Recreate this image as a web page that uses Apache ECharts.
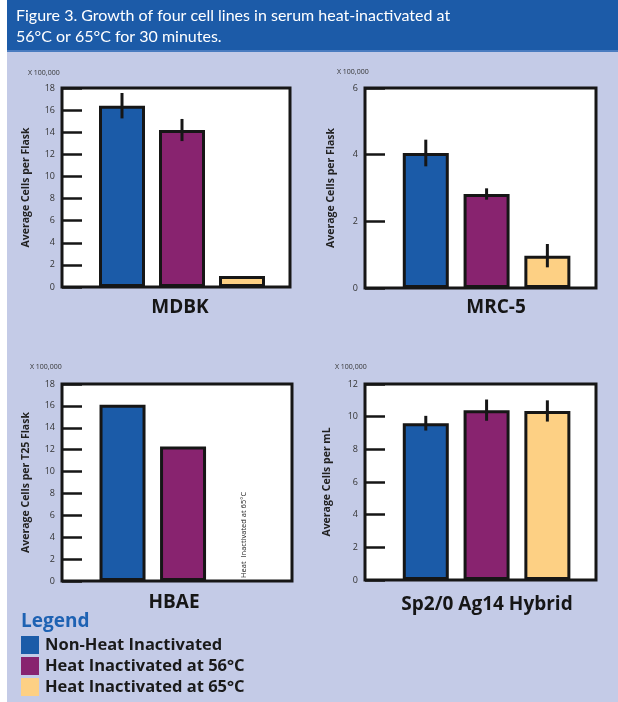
<!DOCTYPE html>
<html>
<head>
<meta charset="utf-8">
<script src="https://cdn.jsdelivr.net/npm/echarts@6/dist/echarts.min.js"></script>
<style>
  html, body { margin: 0; padding: 0; background: #ffffff; }
  #chart { width: 618px; height: 702px; }
</style>
</head>
<body>
<div id="chart"></div>
<script>
// Cell counts (x 100,000) for four cell lines under three serum treatments
const panels = ['MDBK', 'MRC-5', 'HBAE', 'Sp2/0 Ag14 Hybrid'];
const yNames = ['Average Cells per Flask', 'Average Cells per Flask', 'Average Cells per T25 Flask', 'Average Cells per mL'];
const yMax = [18, 6, 18, 12];
const treatments = ['Non-Heat Inactivated', 'Heat Inactivated at 56\u00B0C', 'Heat Inactivated at 65\u00B0C'];
const nonHeat = [16.4, 4.05, 16.1, 9.6];
const heat56 = [14.2, 2.82, 12.3, 10.4];
const heat65 = [1.0, 0.97, null, 10.35];
const errNonHeat = [1.15, 0.4, null, 0.45];
const errHeat56 = [1.0, 0.17, null, 0.65];
const errHeat65 = [null, 0.35, null, 0.65];
const scaleNote = 'X 100,000';
const missingNote = 'Heat  Inactivated at 65\u00B0C';
const figureTitle = 'Figure 3. Growth of four cell lines in serum heat-inactivated at\n56\u00B0C or 65\u00B0C for 30 minutes.';

const colors = ['#1B5BA8', '#88236F', '#FDD084'];
const ink = '#161616';
const font = 'Open Sans';

// panel layout: plot boxes, title anchors, axis-name gaps
const boxes = [
  { left: 62, top: 88, width: 228, height: 199 },
  { left: 365, top: 88, width: 231, height: 200 },
  { left: 62, top: 384, width: 230, height: 197 },
  { left: 365, top: 384, width: 231, height: 196 }
];
const titlePos = [[180, 298], [496, 298], [174, 593], [487, 595]];
const notePos = [[28, 69], [337, 68], [30, 363], [335, 363]];
const nameGaps = [30, 28, 30, 32];

const valuesByTreatment = [nonHeat, heat56, heat65];
const errorsByTreatment = [errNonHeat, errHeat56, errHeat65];

const grid = [], xAxis = [], yAxis = [], series = [];
const title = [{
  text: figureTitle,
  left: 16, top: 5, padding: 0,
  textStyle: { color: '#ffffff', fontSize: 16, fontWeight: 'normal', fontFamily: 'Lato', lineHeight: 21 }
}, {
  text: 'Legend',
  left: 21, top: 612, padding: 0,
  textStyle: { color: '#1E62B3', fontSize: 19, fontWeight: 'bold', fontFamily: font }
}];

panels.forEach((name, i) => {
  grid.push(Object.assign({
    show: true, backgroundColor: '#ffffff', borderColor: ink, borderWidth: 3
  }, boxes[i]));
  xAxis.push({
    type: 'value', gridIndex: i, min: -1, max: 2.8, show: false, splitLine: { show: false }
  });
  yAxis.push({
    type: 'value', gridIndex: i, min: 0, max: yMax[i], interval: 2,
    name: yNames[i], nameLocation: 'middle', nameGap: nameGaps[i],
    nameTextStyle: { fontSize: 10.5, fontWeight: 'bold', color: '#222', fontFamily: font },
    axisLine: { show: false, onZero: false },
    axisTick: { show: true, inside: true, length: 20, lineStyle: { color: ink, width: 2.5 } },
    axisLabel: { margin: 7, fontSize: 9, color: '#333', fontFamily: font },
    splitLine: { show: false }
  });
  title.push({
    text: name, left: titlePos[i][0], top: titlePos[i][1], textAlign: 'center', padding: 0,
    textStyle: { fontSize: 19, fontWeight: 'bold', color: ink, fontFamily: font }
  });
  title.push({
    text: scaleNote, left: notePos[i][0], top: notePos[i][1], padding: 0,
    textStyle: { fontSize: 7, fontWeight: 'normal', color: '#333', fontFamily: font }
  });

  const errRows = [];
  treatments.forEach((tName, k) => {
    const v = valuesByTreatment[k][i];
    let item;
    if (v === null) {
      // no growth measured: an empty slot carrying a vertical note
      item = {
        value: [k, 0],
        itemStyle: { color: 'transparent', borderWidth: 0 },
        label: {
          show: true, position: 'top', distance: 3, rotate: 90,
          align: 'left', verticalAlign: 'middle',
          formatter: missingNote, fontSize: 7.5, color: '#222', fontFamily: font
        }
      };
    } else {
      item = { value: [k, v] };
      const e = errorsByTreatment[k][i];
      if (e !== null) errRows.push([k, v - e, v + e]);
    }
    series.push({
      type: 'bar', name: tName, xAxisIndex: i, yAxisIndex: i,
      barWidth: 46, barGap: '-100%',
      itemStyle: { color: colors[k], borderColor: ink, borderWidth: 3 },
      data: [item]
    });
  });

  series.push({
    type: 'custom', xAxisIndex: i, yAxisIndex: i, z: 5,
    encode: { x: 0, y: [1, 2] },
    data: errRows,
    renderItem: (params, api) => {
      const lo = api.coord([api.value(0), api.value(1)]);
      const hi = api.coord([api.value(0), api.value(2)]);
      return {
        type: 'line',
        shape: { x1: lo[0], y1: lo[1], x2: hi[0], y2: hi[1] },
        style: { stroke: ink, lineWidth: 3 }
      };
    }
  });
});

const chart = echarts.init(document.getElementById('chart'));
chart.setOption({
  animation: false,
  backgroundColor: '#ffffff',
  graphic: [
    { type: 'rect', z: -10, shape: { x: 7, y: 0, width: 611, height: 702 }, style: { fill: '#C4CBE7' } },
    { type: 'rect', z: -9, shape: { x: 7, y: 0, width: 611, height: 50 }, style: { fill: '#1C5BA8' } },
    { type: 'rect', z: -9, shape: { x: 7, y: 50, width: 611, height: 2 }, style: { fill: '#4A7CC0' } }
  ],
  title: title,
  legend: {
    data: treatments, orient: 'vertical', left: 21, top: 636, height: 66,
    icon: 'rect', itemWidth: 18, itemHeight: 18, itemGap: 3, padding: 0,
    selectedMode: false,
    itemStyle: { borderWidth: 0 },
    textStyle: { fontSize: 16.5, fontWeight: 'bold', color: '#1a1a1a', fontFamily: font, padding: [0, 0, 0, 1] }
  },
  grid: grid,
  xAxis: xAxis,
  yAxis: yAxis,
  series: series
});
</script>
</body>
</html>
